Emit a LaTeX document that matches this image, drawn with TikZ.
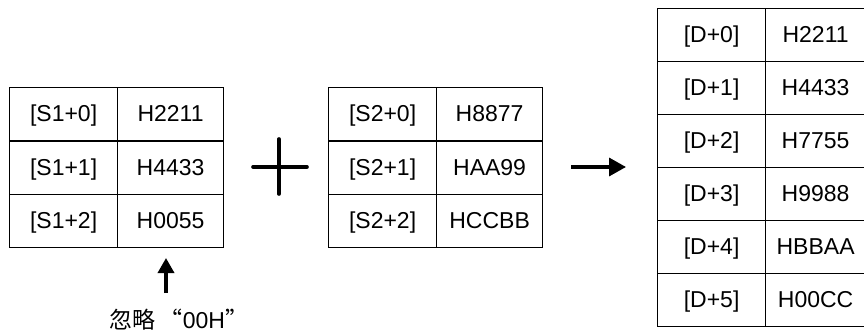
\documentclass[tikz,border=0pt]{standalone}
\usepackage{fontspec}
\setmainfont{Liberation Sans}
\newfontfamily\cjk{Noto Sans CJK SC}
\usetikzlibrary{arrows.meta}
\begin{document}
\begin{tikzpicture}[x=1pt,y=-1pt,
  cellA/.style={draw, line width=1.2pt, minimum width=108pt, minimum height=53.3pt, inner sep=0pt, text height=18pt, text depth=3pt, anchor=north west, font=\fontsize{23}{27}\selectfont},
  cellB/.style={cellA, minimum width=106pt},
  cellC/.style={cellA, minimum width=108pt, minimum height=53pt},
  cellD/.style={cellA, minimum width=100pt, minimum height=53pt},
  bigarrow/.style={line width=3.4pt, -{Triangle[length=17pt,width=18pt]}},
  plusline/.style={line width=3.6pt, line cap=round}]
\useasboundingbox (0,0) rectangle (864,334);
% table S1
\node[cellA] (s10) at (9,87) {[S1+0]};
\node[cellB] (v10) at (117,87) {H2211};
\node[cellA] (s11) at (9,140.3) {[S1+1]};
\node[cellB] (v11) at (117,140.3) {H4433};
\node[cellA] (s12) at (9,193.6) {[S1+2]};
\node[cellB] (v12) at (117,193.6) {H0055};
% plus
\draw[plusline] (253,167) -- (307,167);
\draw[plusline] (279,139) -- (279,194);
% table S2
\node[cellA] (s20) at (328,87) {[S2+0]};
\node[cellB] (v20) at (436,87) {H8877};
\node[cellA] (s21) at (328,140.3) {[S2+1]};
\node[cellB] (v21) at (436,140.3) {HAA99};
\node[cellA] (s22) at (328,193.6) {[S2+2]};
\node[cellB] (v22) at (436,193.6) {HCCBB};
% arrow
\coordinate (ra) at (571,167);
\coordinate (rb) at (626,167);
\draw[bigarrow] (ra) -- (rb);
% table D
\node[cellC] (d0) at (657,8) {[D+0]};
\node[cellD] (w0) at (765,8) {H2211};
\node[cellC] (d1) at (657,61) {[D+1]};
\node[cellD] (w1) at (765,61) {H4433};
\node[cellC] (d2) at (657,114) {[D+2]};
\node[cellD] (w2) at (765,114) {H7755};
\node[cellC] (d3) at (657,167) {[D+3]};
\node[cellD] (w3) at (765,167) {H9988};
\node[cellC] (d4) at (657,220) {[D+4]};
\node[cellD] (w4) at (765,220) {HBBAA};
\node[cellC] (d5) at (657,273) {[D+5]};
\node[cellD] (w5) at (765,273) {H00CC};
% note
\node[inner sep=0pt, font=\fontsize{23}{27}\selectfont] (note) at (179,320) {{\cjk 忽略\,“}00H{\cjk ”}};
\coordinate (ua) at (166,293);
\coordinate (ub) at (166,258);
\draw[line width=3.4pt, -{Triangle[length=15pt,width=16pt]}] (ua) -- (ub);
\end{tikzpicture}
\end{document}
